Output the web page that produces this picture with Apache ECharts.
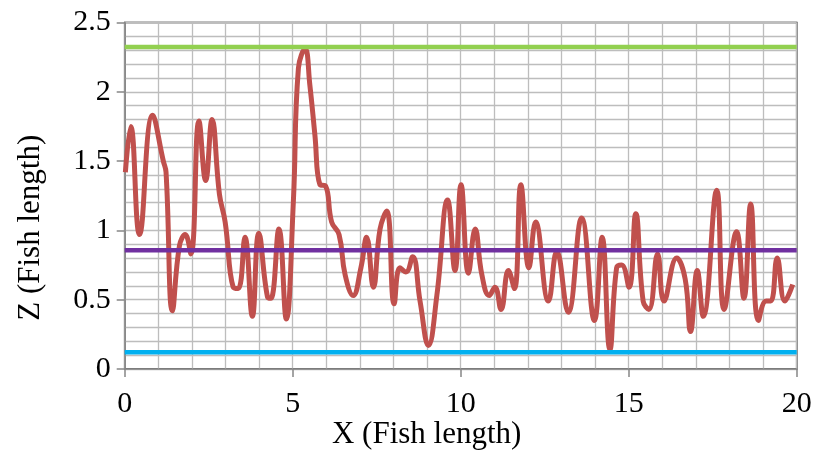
<!DOCTYPE html>
<html>
<head>
<meta charset="utf-8">
<script src="https://cdn.jsdelivr.net/npm/echarts@6/dist/echarts.min.js"></script>
<style>html,body{margin:0;padding:0;background:#fff}#c{width:816px;height:452px}</style>
</head>
<body>
<div id="c"></div>
<script>
// Red curve: Z vs X
const fishX = [0.02,0.18,0.44,0.83,1.15,1.23,1.42,1.63,1.80,1.97,2.21,2.41,2.60,2.82,2.99,3.23,3.38,3.58,3.80,3.99,4.25,4.35,4.59,4.81,5.02,5.17,5.37,5.51,5.66,5.81,5.98,6.16,6.38,6.56,6.80,7.03,7.20,7.40,7.60,7.80,8.02,8.19,8.37,8.57,8.79,9.04,9.29,9.61,9.83,10.01,10.23,10.43,10.63,10.85,11.02,11.20,11.42,11.60,11.79,12.03,12.23,12.61,12.86,13.20,13.60,13.98,14.21,14.44,14.64,14.79,15.01,15.21,15.43,15.60,15.86,16.05,16.43,16.68,16.84,17.04,17.22,17.62,17.84,18.21,18.43,18.63,18.86,19.09,19.23,19.42,19.65,19.88];
const fishZ = [1.42,1.75,0.97,1.83,1.50,1.42,0.42,0.89,0.97,0.83,1.79,1.36,1.80,1.26,1.06,0.59,0.58,0.95,0.38,0.98,0.52,0.51,1.01,0.36,1.21,2.17,2.31,2.05,1.69,1.33,1.32,1.06,0.97,0.68,0.53,0.73,0.95,0.59,1.01,1.14,0.47,0.73,0.70,0.81,0.49,0.17,0.53,1.22,0.71,1.33,0.69,1.01,0.68,0.53,0.59,0.43,0.71,0.58,1.33,0.73,1.06,0.49,0.85,0.41,1.09,0.35,0.95,0.14,0.73,0.75,0.59,1.12,0.49,0.43,0.83,0.49,0.80,0.65,0.27,0.71,0.38,1.29,0.43,0.99,0.51,1.19,0.35,0.49,0.49,0.80,0.49,0.61];
// Reference levels
const xRange = [0, 20];
const upperLevel = 2.323;
const meanLevel = 0.856;
const lowerLevel = 0.120;
const xTicks = [0, 5, 10, 15, 20];
const yTicks = [0, 0.5, 1, 1.5, 2, 2.5];

const font = "'Liberation Serif','Times New Roman',serif";
const chart = echarts.init(document.getElementById('c'), null, {renderer: 'canvas'});
const hline = (v, color) => ({
  type: 'line', data: xRange.map(x => [x, v]), symbol: 'none', silent: true, z: 3,
  lineStyle: {color: color, width: 4.5}
});
chart.setOption({
  animation: false,
  backgroundColor: '#fff',
  grid: {left: 124.7, right: 19.3, top: 22.5, bottom: 83, containLabel: false, outerBoundsMode: 'none',
    show: true, borderColor: '#000', borderWidth: 1.5, backgroundColor: 'transparent'},
  xAxis: {
    type: 'value', min: xTicks[0], max: xTicks[xTicks.length - 1], interval: 5,
    name: 'X (Fish length)', nameLocation: 'middle', nameGap: 50, nameMoveOverlap: false,
    nameTextStyle: {fontFamily: font, fontSize: 31, color: '#000', padding: [0, 68, 0, 0]},
    axisLine: {show: true, lineStyle: {color: '#868686', width: 1.5}},
    axisTick: {show: true, length: 8, lineStyle: {color: '#868686', width: 1.5}},
    axisLabel: {fontFamily: font, fontSize: 30, color: '#000', margin: 20},
    splitLine: {show: true, lineStyle: {color: '#bdbdbd', width: 1.3}},
    minorTick: {show: false, splitNumber: 5},
    minorSplitLine: {show: true, lineStyle: {color: '#bdbdbd', width: 1.3}}
  },
  yAxis: {
    type: 'value', min: yTicks[0], max: yTicks[yTicks.length - 1], interval: 0.5,
    name: 'Z (Fish length)', nameLocation: 'middle', nameGap: 78, nameRotate: 90, nameMoveOverlap: false,
    nameTextStyle: {fontFamily: font, fontSize: 31, color: '#000', padding: [0, 64, 0, 0]},
    axisLine: {show: true, lineStyle: {color: '#868686', width: 1.5}},
    axisTick: {show: true, length: 8, lineStyle: {color: '#868686', width: 1.5}},
    axisLabel: {fontFamily: font, fontSize: 30, color: '#000', margin: 14},
    splitLine: {show: true, lineStyle: {color: '#bdbdbd', width: 1.3}},
    minorTick: {show: false, splitNumber: 5},
    minorSplitLine: {show: true, lineStyle: {color: '#bdbdbd', width: 1.3}}
  },
  series: [
    {
      type: 'line', data: fishX.map((x, i) => [x, fishZ[i]]), symbol: 'none', smooth: 0.45, z: 2,
      lineStyle: {color: '#c0504d', width: 5}
    },
    hline(upperLevel, '#92d050'),
    hline(meanLevel, '#7030a0'),
    hline(lowerLevel, '#00b0f0')
  ]
});
</script>
</body>
</html>
